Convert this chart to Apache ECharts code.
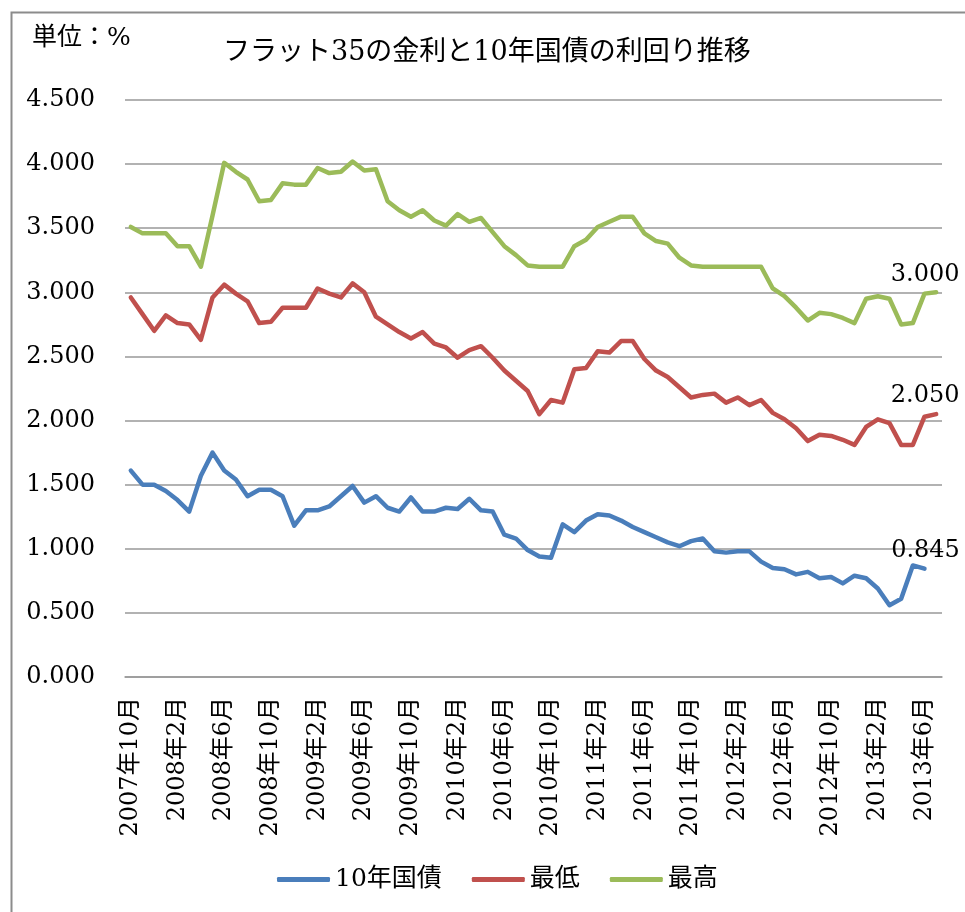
<!DOCTYPE html>
<html>
<head>
<meta charset="utf-8">
<script src="https://cdn.jsdelivr.net/npm/echarts@6/dist/echarts.min.js"></script>
<style>
  html, body { margin: 0; padding: 0; background: #fff; }
  #chart { width: 965px; height: 912px; }
</style>
</head>
<body>
<div id="chart"></div>
<script>
// monthly, 2007年10月 .. 2013年7月
const startYear = 2007;
const startMonth = 10;
const monthCount = 70;
const months = [];
for (let i = 0; i < monthCount; i++) {
  const m = startMonth - 1 + i;
  months.push((startYear + Math.floor(m / 12)) + '年' + (m % 12 + 1) + '月');
}

const seriesNames = ['10年国債', '最低', '最高'];
const seriesColors = ['#4a7ebb', '#c0504d', '#9bbb59'];

// 10年国債 (ends 2013年6月)
const jgb10y = [
  1.61, 1.50, 1.50, 1.45, 1.38, 1.29, 1.57, 1.75, 1.61, 1.54,
  1.41, 1.46, 1.46, 1.41, 1.18, 1.30, 1.30, 1.33, 1.41, 1.49,
  1.36, 1.41, 1.32, 1.29, 1.40, 1.29, 1.29, 1.32, 1.31, 1.39,
  1.30, 1.29, 1.11, 1.08, 0.99, 0.94, 0.93, 1.19, 1.13, 1.22,
  1.27, 1.26, 1.22, 1.17, 1.13, 1.09, 1.05, 1.02, 1.06, 1.08,
  0.98, 0.97, 0.98, 0.98, 0.90, 0.85, 0.84, 0.80, 0.82, 0.77,
  0.78, 0.73, 0.79, 0.77, 0.69, 0.56, 0.61, 0.87, 0.845
];

// フラット35 最低
const flatLow = [
  2.96, 2.83, 2.70, 2.82, 2.76, 2.75, 2.63, 2.96, 3.06, 2.99,
  2.93, 2.76, 2.77, 2.88, 2.88, 2.88, 3.03, 2.99, 2.96, 3.07,
  3.00, 2.81, 2.75, 2.69, 2.64, 2.69, 2.60, 2.57, 2.49, 2.55,
  2.58, 2.49, 2.39, 2.31, 2.23, 2.05, 2.16, 2.14, 2.40, 2.41,
  2.54, 2.53, 2.62, 2.62, 2.48, 2.39, 2.34, 2.26, 2.18, 2.20,
  2.21, 2.14, 2.18, 2.12, 2.16, 2.06, 2.01, 1.94, 1.84, 1.89,
  1.88, 1.85, 1.81, 1.95, 2.01, 1.98, 1.81, 1.81, 2.03, 2.05
];

// フラット35 最高
const flatHigh = [
  3.51, 3.46, 3.46, 3.46, 3.36, 3.36, 3.20, 3.60, 4.01, 3.94,
  3.88, 3.71, 3.72, 3.85, 3.84, 3.84, 3.97, 3.93, 3.94, 4.02,
  3.95, 3.96, 3.71, 3.64, 3.59, 3.64, 3.56, 3.52, 3.61, 3.55,
  3.58, 3.47, 3.36, 3.29, 3.21, 3.20, 3.20, 3.20, 3.36, 3.41,
  3.51, 3.55, 3.59, 3.59, 3.46, 3.40, 3.38, 3.27, 3.21, 3.20,
  3.20, 3.20, 3.20, 3.20, 3.20, 3.03, 2.97, 2.88, 2.78, 2.84,
  2.83, 2.80, 2.76, 2.95, 2.97, 2.95, 2.75, 2.76, 2.99, 3.00
];

const yTicks = { min: 0, max: 4.5, interval: 0.5 };

const SERIF = '"DejaVu Serif", "Noto Sans CJK JP", serif';

// only the latest value gets a label
function withLastLabel(values, offset) {
  return values.map((v, i) => i === values.length - 1
    ? { value: v, label: { show: true, position: 'top', distance: 6, offset: offset,
        formatter: (p) => p.value.toFixed(3), fontFamily: SERIF, fontSize: 24, color: '#000' } }
    : v);
}

function lineSeries(idx, values, offset) {
  return {
    type: 'line',
    name: seriesNames[idx],
    data: withLastLabel(values, offset),
    symbol: 'circle',
    symbolSize: 0,
    showSymbol: true,
    animation: false,
    itemStyle: { color: seriesColors[idx] },
    lineStyle: { color: seriesColors[idx], width: 4.5, cap: 'round', join: 'round' },
  };
}

const chart = echarts.init(document.getElementById('chart'));
chart.setOption({
  animation: false,
  backgroundColor: '#fff',
  title: [
    { text: 'フラット35の金利と10年国債の利回り推移', left: 218, top: 34,
      textStyle: { fontFamily: SERIF, fontSize: 27, fontWeight: 'normal', color: '#000' } },
    { text: '単位：%', left: 27, top: 21,
      textStyle: { fontFamily: SERIF, fontSize: 25, fontWeight: 'normal', color: '#000' } },
  ],
  graphic: [
    { type: 'rect', left: 9, top: 10, shape: { width: 1000, height: 1000 }, silent: true,
      style: { fill: 'none', stroke: '#8c8c8c', lineWidth: 2 } },
  ],
  legend: {
    data: seriesNames,
    left: 272,
    top: 862,
    icon: 'roundRect',
    itemWidth: 53,
    itemHeight: 5,
    itemGap: 30,
    textStyle: { fontFamily: SERIF, fontSize: 25, color: '#000', padding: [0, 0, 0, 0] },
  },
  grid: { left: 125, right: 23, top: 100, bottom: 235, containLabel: false },
  xAxis: {
    type: 'category',
    data: months,
    boundaryGap: true,
    axisLine: { show: true, lineStyle: { color: '#999', width: 1.5 } },
    axisTick: { show: false },
    axisLabel: { interval: 3, rotate: 90, margin: 20, fontFamily: SERIF, fontSize: 24, color: '#000' },
  },
  yAxis: {
    type: 'value',
    min: yTicks.min,
    max: yTicks.max,
    interval: yTicks.interval,
    axisLine: { show: false },
    axisTick: { show: false },
    splitLine: { lineStyle: { color: '#999', width: 1.5 } },
    axisLabel: { margin: 30, formatter: (v) => v.toFixed(3), fontFamily: SERIF, fontSize: 24, color: '#000' },
  },
  series: [
    lineSeries(0, jgb10y, [1, 0]),
    lineSeries(1, flatLow, [-11, 0]),
    lineSeries(2, flatHigh, [-11, 0]),
  ],
});
</script>
</body>
</html>
